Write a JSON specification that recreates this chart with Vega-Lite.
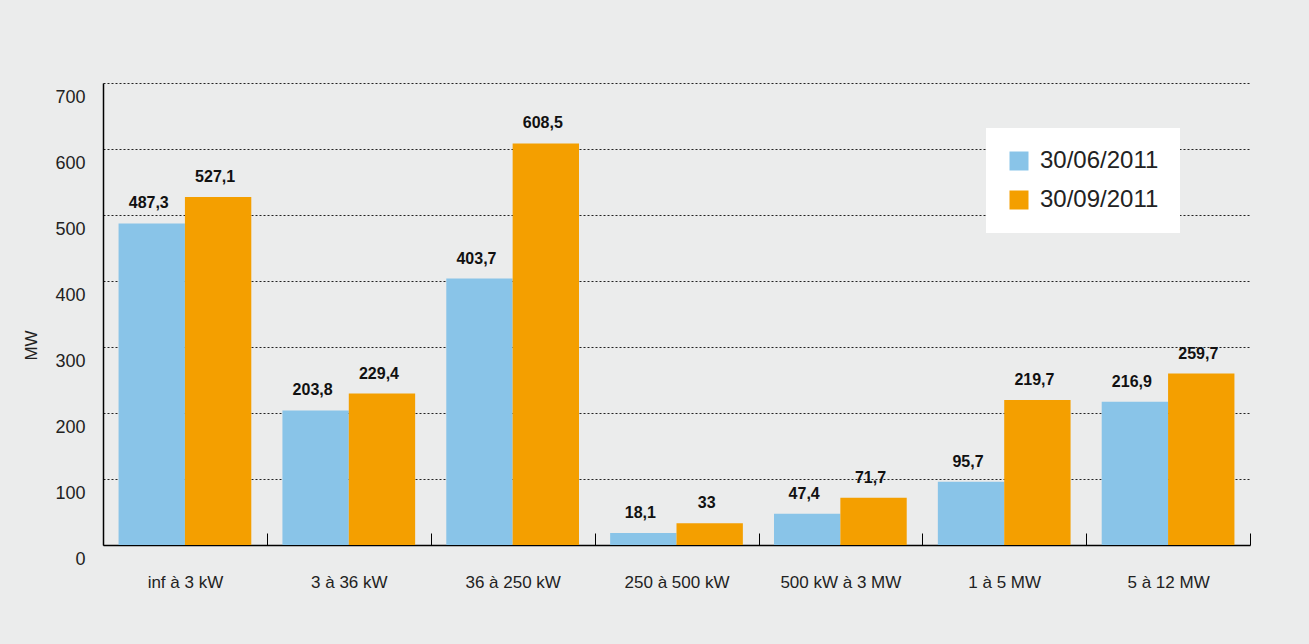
{
  "$schema": "https://vega.github.io/schema/vega-lite/v6.json",
  "width": 1147,
  "height": 462,
  "autosize": {"type": "none"},
  "padding": {"left": 103, "top": 83, "right": 59, "bottom": 99},
  "background": "#ebecec",
  "config": {
    "view": {"stroke": null},
    "font": "Liberation Sans",
    "locale": {"number": {"decimal": ",", "thousands": " ", "grouping": [3], "currency": ["", " €"]}}
  },
  "data": {
    "values": [
      {"cat": "inf à 3 kW", "series": "30/06/2011", "value": 487.3},
      {"cat": "inf à 3 kW", "series": "30/09/2011", "value": 527.1},
      {"cat": "3 à 36 kW", "series": "30/06/2011", "value": 203.8},
      {"cat": "3 à 36 kW", "series": "30/09/2011", "value": 229.4},
      {"cat": "36 à 250 kW", "series": "30/06/2011", "value": 403.7},
      {"cat": "36 à 250 kW", "series": "30/09/2011", "value": 608.5},
      {"cat": "250 à 500 kW", "series": "30/06/2011", "value": 18.1},
      {"cat": "250 à 500 kW", "series": "30/09/2011", "value": 33},
      {"cat": "500 kW à 3 MW", "series": "30/06/2011", "value": 47.4},
      {"cat": "500 kW à 3 MW", "series": "30/09/2011", "value": 71.7},
      {"cat": "1 à 5 MW", "series": "30/06/2011", "value": 95.7},
      {"cat": "1 à 5 MW", "series": "30/09/2011", "value": 219.7},
      {"cat": "5 à 12 MW", "series": "30/06/2011", "value": 216.9},
      {"cat": "5 à 12 MW", "series": "30/09/2011", "value": 259.7}
    ]
  },
  "encoding": {
    "x": {
      "field": "cat",
      "type": "nominal",
      "sort": null,
      "scale": {"paddingInner": 0.19, "paddingOuter": 0.095},
      "axis": {
        "title": null,
        "labelAngle": 0,
        "labelFontSize": 17,
        "labelColor": "#222222",
        "labelPadding": 41,
        "tickOffset": 82,
        "labelOffset": -82,
        "domainColor": "#000000",
        "domainWidth": 1.5,
        "tickSize": -12,
        "tickColor": "#000000",
        "tickWidth": 1,
        "grid": false
      }
    },
    "xOffset": {"field": "series", "type": "nominal", "scale": {"paddingInner": 0, "paddingOuter": 0}},
    "y": {
      "field": "value",
      "type": "quantitative",
      "scale": {"domain": [0, 700], "nice": false},
      "axis": {
        "title": "MW",
        "titleFontSize": 17,
        "titleFontWeight": "normal",
        "titleColor": "#222222",
        "titleX": -72,
        "titleY": 262,
        "titleAlign": "center",
        "titleBaseline": "middle",
        "titleAngle": -90,
        "values": [0, 100, 200, 300, 400, 500, 600, 700],
        "format": "d",
        "labelFontSize": 18,
        "labelColor": "#222222",
        "labelPadding": 18,
        "labelOffset": 14,
        "labelBaseline": "middle",
        "ticks": false,
        "domainColor": "#000000",
        "domainWidth": 1.5,
        "grid": true,
        "gridColor": "#222222",
        "gridDash": [2, 2],
        "gridWidth": 1
      }
    }
  },
  "layer": [
    {
      "mark": {"type": "bar"},
      "encoding": {
        "color": {
          "field": "series",
          "type": "nominal",
          "scale": {"domain": ["30/06/2011", "30/09/2011"], "range": ["#89c4e8", "#f49f00"]},
          "legend": {
            "title": null,
            "orient": "none",
            "legendX": 883,
            "legendY": 45,
            "fillColor": "white",
            "padding": 21,
            "symbolType": "square",
            "symbolSize": 361,
            "symbolStrokeWidth": 0,
            "symbolOpacity": 1,
            "labelFontSize": 24,
            "labelColor": "#222222",
            "labelOffset": 9,
            "rowPadding": 15,
            "labelLimit": 300
          }
        }
      }
    },
    {
      "mark": {"type": "text", "baseline": "bottom", "dy": -12, "dx": -3, "fontWeight": "bold", "fontSize": 16, "color": "#111111"},
      "encoding": {
        "text": {"field": "value", "type": "quantitative", "format": ".1~f"}
      }
    }
  ]
}
